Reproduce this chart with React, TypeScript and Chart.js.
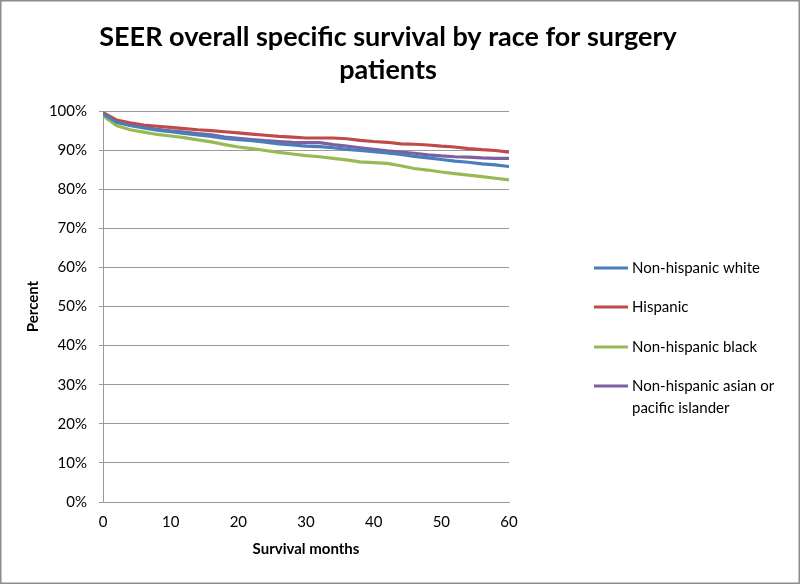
import React, { useEffect, useRef } from 'react';
import { Chart, registerables } from 'chart.js';

Chart.register(...registerables);

const titleLines = ['SEER overall specific survival by race for surgery', 'patients'];
const xTitle = 'Survival months';
const yTitle = 'Percent';

const months = [0, 2, 4, 6, 8, 10, 12, 14, 16, 18, 20, 22, 24, 26, 28, 30, 32, 34, 36, 38, 40, 42, 44, 46, 48, 50, 52, 54, 56, 58, 60];

const nhWhite = [99.3, 97.1, 96.3, 95.7, 95.1, 94.7, 94.3, 93.9, 93.5, 93.0, 92.7, 92.4, 92.0, 91.6, 91.3, 91.0, 90.9, 90.6, 90.2, 89.9, 89.6, 89.3, 88.9, 88.4, 88.0, 87.6, 87.2, 86.9, 86.5, 86.2, 85.8];
const hispanic = [99.6, 97.7, 97.0, 96.4, 96.1, 95.8, 95.5, 95.2, 95.0, 94.7, 94.4, 94.1, 93.8, 93.5, 93.3, 93.1, 93.1, 93.1, 92.9, 92.5, 92.2, 92.0, 91.6, 91.5, 91.3, 91.0, 90.8, 90.4, 90.1, 89.9, 89.5];
const nhBlack = [98.8, 96.3, 95.2, 94.6, 94.0, 93.6, 93.2, 92.6, 92.1, 91.4, 90.8, 90.4, 89.9, 89.4, 89.0, 88.6, 88.3, 87.9, 87.5, 87.0, 86.8, 86.6, 86.0, 85.3, 84.9, 84.4, 84.0, 83.6, 83.2, 82.8, 82.4];
const nhAsian = [99.5, 97.3, 96.4, 95.9, 95.3, 94.9, 94.6, 94.2, 93.9, 93.3, 93.0, 92.7, 92.4, 92.2, 92.0, 91.9, 91.9, 91.4, 91.0, 90.6, 90.2, 89.8, 89.5, 89.2, 88.8, 88.5, 88.3, 88.2, 88.0, 87.9, 87.9];

const seriesNames = ['Non-hispanic white', 'Hispanic', 'Non-hispanic black', 'Non-hispanic asian or pacific islander'];
const legendLines = [['Non-hispanic white'], ['Hispanic'], ['Non-hispanic black'], ['Non-hispanic asian or', 'pacific islander']];
const colors = ['#4a7ebb', '#be4b48', '#98b954', '#7d60a0'];
const seriesValues = [nhWhite, hispanic, nhBlack, nhAsian];

const FONT = 'Lato, "Open Sans", sans-serif';

const decorPlugin = {
  id: 'decor',
  afterDraw(chart: any) {
    const ctx = chart.ctx;
    ctx.save();
    ctx.strokeStyle = '#8c8c8c';
    ctx.lineWidth = 1.5;
    ctx.strokeRect(0.75, 0.75, 798.5, 582.5);

    ctx.fillStyle = '#000000';
    ctx.font = `bold 27px ${FONT}`;
    ctx.textAlign = 'center';
    ctx.textBaseline = 'middle';
    ctx.fillText(titleLines[0], 388, 37);
    ctx.fillText(titleLines[1], 388, 70);

    ctx.font = `15px ${FONT}`;
    ctx.textAlign = 'left';
    const rowY = [268, 307, 347, 386];
    legendLines.forEach((lines, i) => {
      ctx.strokeStyle = colors[i];
      ctx.lineWidth = 3;
      ctx.beginPath();
      ctx.moveTo(594, rowY[i]);
      ctx.lineTo(628, rowY[i]);
      ctx.stroke();
      ctx.fillStyle = '#000000';
      lines.forEach((t, j) => ctx.fillText(t, 632, rowY[i] + j * 22));
    });
    ctx.restore();
  },
};

export default function App() {
  const ref = useRef<HTMLCanvasElement>(null);
  useEffect(() => {
    document.body.style.margin = '0';
    const canvas = ref.current;
    if (!canvas) return;
    const chart = new Chart(canvas, {
      type: 'line',
      data: {
        datasets: seriesValues.map((vals, i) => ({
          label: seriesNames[i],
          data: months.map((m, k) => ({ x: m, y: vals[k] })),
          borderColor: colors[i],
          backgroundColor: colors[i],
          borderWidth: 3.2,
          pointRadius: 0,
          tension: 0,
          fill: false,
        })),
      },
      options: {
        animation: false,
        responsive: false,
        maintainAspectRatio: false,
        layout: { padding: { top: 111, right: 291, left: 0, bottom: 0 } },
        plugins: {
          legend: { display: false },
          title: { display: false },
          tooltip: { enabled: false },
        },
        scales: {
          x: {
            type: 'linear',
            min: 0,
            max: 60,
            ticks: { stepSize: 10, color: '#000000', font: { family: FONT, size: 15 }, padding: 7, maxRotation: 0 },
            grid: { display: false, drawTicks: true, tickLength: 4 },
            border: { display: true, color: '#9a9a9a', width: 1 },
            title: { display: true, text: xTitle, color: '#000000', font: { family: FONT, size: 15, weight: 'bold' }, padding: { top: 0, bottom: 26 } },
            afterFit(scale: any) { scale.height = 82; },
          },
          y: {
            min: 0,
            max: 100,
            ticks: { stepSize: 10, color: '#000000', font: { family: FONT, size: 15 }, padding: 12, callback: (v: any) => v + '%' },
            grid: { color: '#9a9a9a', lineWidth: 1, tickLength: 4 },
            border: { display: true, color: '#9a9a9a', width: 1 },
            title: { display: true, text: yTitle, color: '#000000', font: { family: FONT, size: 15, weight: 'bold' }, padding: { top: 24, bottom: 0 } },
            afterFit(scale: any) { scale.width = 103; },
          },
        },
      },
      plugins: [decorPlugin],
    } as any);
    return () => chart.destroy();
  }, []);
  return (
    <div style={{ position: 'relative', width: 800, height: 584 }}>
      <canvas ref={ref} width={800} height={584} />
    </div>
  );
}
